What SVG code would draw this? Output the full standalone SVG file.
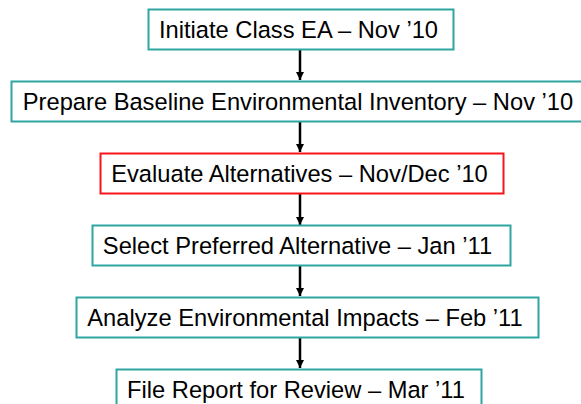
<svg xmlns="http://www.w3.org/2000/svg" width="581" height="404" viewBox="0 0 581 404">
  <defs>
    <style>
      .box { fill: #ffffff; stroke: #2ea5a1; stroke-width: 2; }
      .box.hl { stroke: #f8141c; }
      .lbl { font-family: "Liberation Sans", Arial, sans-serif; font-size: 23.7px; fill: #000000; text-anchor: middle; }
      .conn { stroke: #000000; stroke-width: 2.5; fill: none; marker-end: url(#arrow); }
    </style>
    <marker id="arrow" viewBox="0 0 10 10" refX="10" refY="5" markerWidth="3.4" markerHeight="3.4" orient="auto" markerUnits="strokeWidth">
      <path d="M0,0 L10,5 L0,10 z" fill="#000000"/>
    </marker>
  </defs>
  <rect width="581" height="404" fill="#ffffff"/>
  <g id="connectors">
    <line class="conn" x1="300" y1="50" x2="300" y2="80"/>
    <line class="conn" x1="300" y1="122" x2="300" y2="152"/>
    <line class="conn" x1="300" y1="194" x2="300" y2="225"/>
    <line class="conn" x1="300" y1="266" x2="300" y2="296"/>
    <line class="conn" x1="300" y1="338" x2="300" y2="368"/>
  </g>
  <g id="n1">
    <rect class="box" x="148.5" y="9.5" width="305" height="40"/>
    <text class="lbl" x="298.5" y="37.5">Initiate Class EA – Nov ’10</text>
  </g>
  <g id="n2">
    <rect class="box" x="11.5" y="81.5" width="580" height="40"/>
    <text class="lbl" x="298" y="109.5">Prepare Baseline Environmental Inventory – Nov ’10</text>
  </g>
  <g id="n3">
    <rect class="box hl" x="100.5" y="153.5" width="403" height="40"/>
    <text class="lbl" x="299.5" y="181.5">Evaluate Alternatives – Nov/Dec ’10</text>
  </g>
  <g id="n4">
    <rect class="box" x="92.5" y="225.5" width="418" height="40"/>
    <text class="lbl" x="297.5" y="253.5">Select Preferred Alternative – Jan ’11</text>
  </g>
  <g id="n5">
    <rect class="box" x="76.5" y="297.5" width="462" height="40"/>
    <text class="lbl" x="305" y="325.5">Analyze Environmental Impacts – Feb ’11</text>
  </g>
  <g id="n6">
    <rect class="box" x="116.5" y="369.5" width="365" height="40"/>
    <text class="lbl" x="296" y="397.5">File Report for Review – Mar ’11</text>
  </g>
</svg>
